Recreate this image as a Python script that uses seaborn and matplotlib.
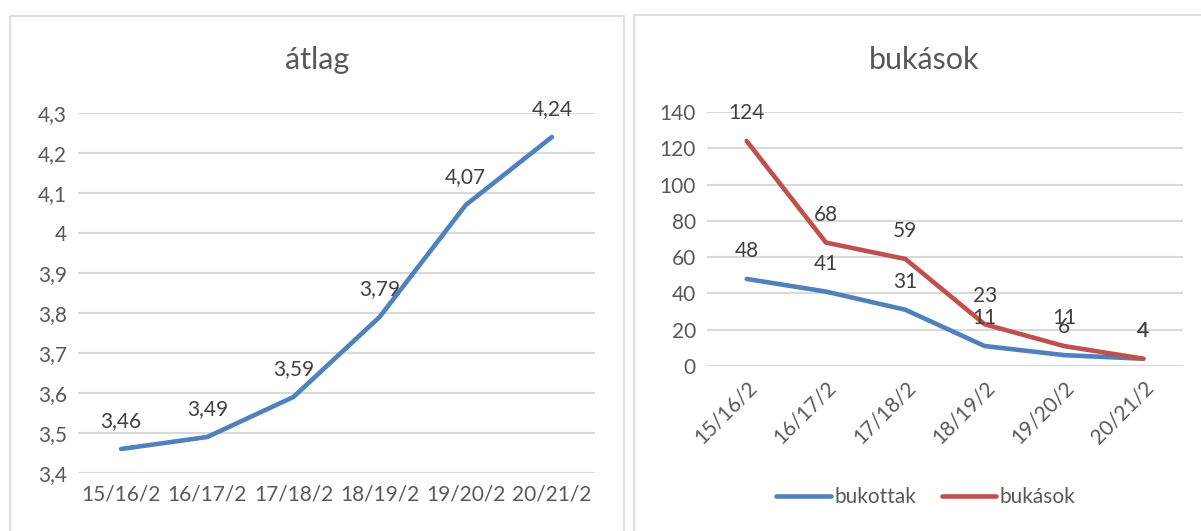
import matplotlib
matplotlib.use("Agg")
import matplotlib.pyplot as plt
from matplotlib.patches import Rectangle
from matplotlib.ticker import FuncFormatter
import seaborn as sns
import pandas as pd

# adatok
evek = ["15/16/2", "16/17/2", "17/18/2", "18/19/2", "19/20/2", "20/21/2"]
atlag = [3.46, 3.49, 3.59, 3.79, 4.07, 4.24]
bukottak = [48, 41, 31, 11, 6, 4]
bukasok = [124, 68, 59, 23, 11, 4]

kek = "#4f81bd"
piros = "#c0504d"
szurke = "#595959"
racs = "#d9d9d9"

sns.set_style("white")
plt.rcParams["font.family"] = ["Lato", "DejaVu Sans"]
plt.rcParams["lines.solid_capstyle"] = "round"
plt.rcParams["lines.solid_joinstyle"] = "round"

W, H = 1201, 531
fig = plt.figure(figsize=(W / 100, H / 100), dpi=100)


def px_ax(x0, y0, x1, y1):
    # pixel koordinatak (bal felso origo) -> axes
    return fig.add_axes([x0 / W, (H - y1) / H, (x1 - x0) / W, (y1 - y0) / H])


def keret(x0, y0, x1, y1):
    fig.patches.append(Rectangle((x0 / W, (H - y1) / H), (x1 - x0) / W, (y1 - y0) / H,
                                 transform=fig.transFigure, fill=False, ec=racs, lw=1.2))


def vesszo(v, pos=None):
    return f"{v:g}".replace(".", ",")


def alap(ax, ymin, ymax, step):
    ax.set_xlim(-0.5, len(evek) - 0.5)
    ax.set_ylim(ymin, ymax)
    ticks = [ymin + i * step for i in range(int(round((ymax - ymin) / step)) + 1)]
    ax.set_yticks(ticks)
    ax.yaxis.grid(True, color=racs, lw=1.5)
    ax.set_axisbelow(True)
    for s in ax.spines.values():
        s.set_visible(False)
    ax.tick_params(length=0, labelsize=15, colors=szurke, pad=8)
    ax.set_xlabel("")
    ax.set_ylabel("")


keret(10, 16, 624, 540)
keret(634, 15, 1210, 540)

# bal: átlag
ax1 = px_ax(78, 113, 595, 473)
df1 = pd.DataFrame({"x": range(len(evek)), "y": atlag})
sns.lineplot(data=df1, x="x", y="y", ax=ax1, color=kek, lw=3.3)
alap(ax1, 3.4, 4.3, 0.1)
ax1.yaxis.set_major_formatter(FuncFormatter(vesszo))
ax1.set_xticks(range(len(evek)))
ax1.set_xticklabels(evek)
for i, v in enumerate(atlag):
    ax1.annotate(f"{v:.2f}".replace(".", ","), (i, v), xytext=(0, 13), textcoords="offset points",
                 ha="center", va="bottom", fontsize=15, color="#404040")
fig.text(317 / W, (H - 60) / H, "átlag", ha="center", va="center", fontsize=22, color=szurke)

# jobb: bukások
ax2 = px_ax(707, 112, 1183, 366)
df2 = pd.DataFrame({"x": list(range(len(evek))) * 2,
                    "y": bukottak + bukasok,
                    "sorozat": ["bukottak"] * len(evek) + ["bukások"] * len(evek)})
sns.lineplot(data=df2, x="x", y="y", hue="sorozat", palette=[kek, piros], ax=ax2, lw=3.3)
alap(ax2, 0, 140, 20)
ax2.set_xticks(range(len(evek)))
ax2.set_xticklabels(evek, rotation=45, ha="right", rotation_mode="anchor")
for vals in (bukottak, bukasok):
    for i, v in enumerate(vals):
        ax2.annotate(str(v), (i, v), xytext=(0, 13), textcoords="offset points",
                     ha="center", va="bottom", fontsize=15, color="#404040")
fig.text(924 / W, (H - 60) / H, "bukások", ha="center", va="center", fontsize=22, color=szurke)

handles, labels = ax2.get_legend_handles_labels()
ax2.get_legend().remove()
fig.legend(handles, labels, loc="center", bbox_to_anchor=(926 / W, (H - 497) / H), ncol=2,
           frameon=False, fontsize=15, labelcolor=szurke, handlelength=2.6, handletextpad=0.2,
           columnspacing=1.2)

fig.savefig("out.png", dpi=100)
